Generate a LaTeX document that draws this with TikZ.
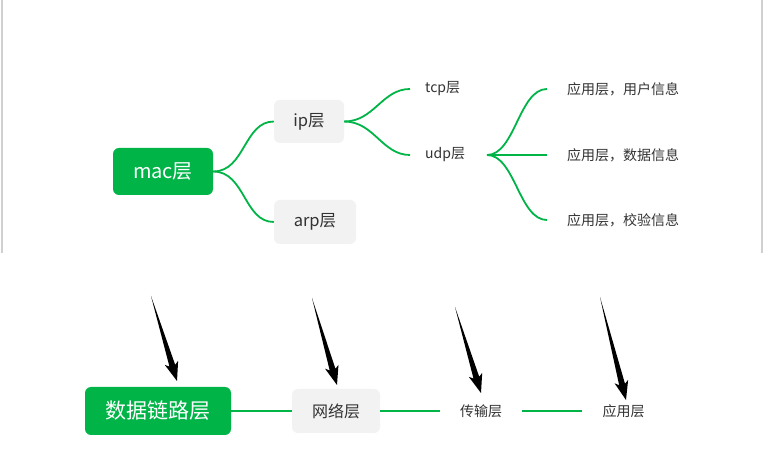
\documentclass[tikz,border=0pt]{standalone}
\usepackage{fontspec}
\setmainfont{Noto Sans CJK SC}
\usetikzlibrary{calc}
\definecolor{mgreen}{HTML}{00B447}
\definecolor{mgray}{HTML}{F2F2F2}
\definecolor{mtext}{HTML}{333333}
\definecolor{frame}{HTML}{D0D0D0}
\newcommand\bigarrow[2]{%
  \path (#2) coordinate (tip) ($(#2)!16pt!(#1)$) coordinate (bs) ($(#2)!19pt!(#1)$) coordinate (bb);
  \fill[black] (#1) -- ($(bs)!3pt!90:(tip)$) -- ($(bb)!7pt!90:(tip)$) -- (tip)
    -- ($(bb)!7pt!-90:(tip)$) -- ($(bs)!3pt!-90:(tip)$) -- cycle;}
\begin{document}
\begin{tikzpicture}[x=1pt,y=-1pt,
  root/.style={fill=mgreen, rounded corners=6pt, text=white, inner sep=0pt},
  sub/.style={fill=mgray, rounded corners=6pt, text=mtext, inner sep=0pt},
  leaf/.style={text=mtext, inner ysep=0pt, font=\fontsize{14}{14}\selectfont},
  link/.style={draw=mgreen, line width=1.8pt}]
\useasboundingbox (0,0) rectangle (764,470);
\fill[white] (0,0) rectangle (764,470);
\draw[frame, line width=2pt] (2,0) -- (2,253) (762,0) -- (762,253);

% top mind map
\node[root, minimum width=100pt, minimum height=47pt, font=\fontsize{20}{20}\selectfont] (mac) at (163,171.5) {mac层};
\node[sub, minimum width=70pt, minimum height=43pt, font=\fontsize{16.5}{16}\selectfont] (ip) at (309,121.5) {ip层};
\node[sub, minimum width=82pt, minimum height=44pt, font=\fontsize{16.5}{16}\selectfont] (arp) at (315,222) {arp层};
\node[leaf, anchor=west, inner xsep=15pt] (tcp) at (410,89) {tcp层};
\node[leaf, anchor=west, inner xsep=15pt] (udp) at (410,155) {udp层};
\coordinate (udpout) at (487,155);
\node[leaf, anchor=west, inner xsep=20pt] (l1) at (547,89) {应用层，用户信息};
\node[leaf, anchor=west, inner xsep=20pt] (l2) at (547,155) {应用层，数据信息};
\node[leaf, anchor=west, inner xsep=20pt] (l3) at (547,220) {应用层，校验信息};

\draw[link] (mac.east) .. controls +(32,0) and +(-30,0) .. (ip.west);
\draw[link] (mac.east) .. controls +(32,0) and +(-30,0) .. (arp.west);
\draw[link] (ip.east) .. controls +(30,0) and +(-28,0) .. (tcp.west);
\draw[link] (ip.east) .. controls +(30,0) and +(-28,0) .. (udp.west);
\draw[link] (udpout) .. controls +(28,0) and +(-28,0) .. (l1.west);
\draw[link] (udpout) -- (l2.west);
\draw[link] (udpout) .. controls +(28,0) and +(-28,0) .. (l3.west);

% bottom row
\node[root, minimum width=146pt, minimum height=48pt, font=\fontsize{21}{21}\selectfont] (dl) at (158,411) {数据链路层};
\node[sub, minimum width=88pt, minimum height=44pt, font=\fontsize{16}{16}\selectfont] (net) at (336,411) {网络层};
\node[leaf, inner xsep=20pt] (tr) at (481,411) {传输层};
\node[leaf, inner xsep=20pt] (app) at (623.5,411) {应用层};
\draw[link] (dl.east) -- (net.west);
\draw[link] (net.east) -- (tr.west);
\draw[link] (tr.east) -- (app.west);

% arrows
\coordinate (a1s) at (151,296); \coordinate (a1e) at (177,381);
\coordinate (a2s) at (312,298); \coordinate (a2e) at (337,385);
\coordinate (a3s) at (455,307); \coordinate (a3e) at (481,393);
\coordinate (a4s) at (600,297); \coordinate (a4e) at (626,400);
\bigarrow{a1s}{a1e}
\bigarrow{a2s}{a2e}
\bigarrow{a3s}{a3e}
\bigarrow{a4s}{a4e}
\end{tikzpicture}
\end{document}
